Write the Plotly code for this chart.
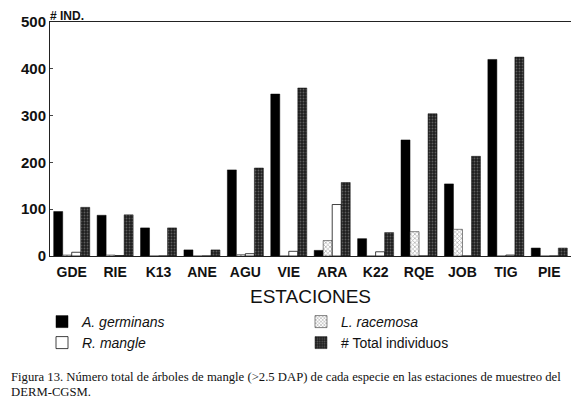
import plotly.graph_objects as go

stations = ["GDE", "RIE", "K13", "ANE", "AGU", "VIE", "ARA", "K22", "RQE", "JOB", "TIG", "PIE"]
a_germinans = [95, 87, 60, 13, 184, 346, 12, 37, 248, 154, 420, 17]
l_racemosa = [2, 2, 0, 0, 3, 0, 33, 0, 52, 57, 0, 0]
r_mangle = [8, 1, 0, 0, 5, 10, 110, 9, 0, 0, 2, 0]
total = [104, 88, 60, 13, 188, 359, 157, 50, 304, 213, 425, 17]

y_ticks = [0, 100, 200, 300, 400, 500]

caption_lines = [
    "Figura 13. Número total de árboles de mangle (>2.5 DAP) de cada especie en las estaciones de muestreo del",
    "DERM-CGSM.",
]

FONT = "Liberation Sans, Arial, sans-serif"
SERIF = "Liberation Serif, Times New Roman, serif"

# the page body adds an 8px offset; figure is sized/placed to compensate
OFF = 8
W, H = 579 - OFF, 400 - OFF
# plot area in window pixels: x 50..571, y 22..256
L, R, T, B = 50 - OFF, 579 - 571, 22 - OFF, 400 - 256
PW, PH = W - L - R, H - T - B


def px_x(px):  # window px -> paper
    return (px - OFF - L) / PW


def px_y(py):  # window px -> paper
    return (H - B - (py - OFF)) / PH


def cx(px):  # window px -> container fraction
    return (px - OFF) / W


def cy(py):
    return 1 - (py - OFF) / H


fig = go.Figure()
fig.add_trace(go.Bar(x=stations, y=a_germinans, name="<i>A. germinans</i>",
                     marker=dict(color="#000000", line=dict(color="#000000", width=0.5)),
                     legend="legend"))
fig.add_trace(go.Bar(x=stations, y=l_racemosa, name="<i>L. racemosa</i>",
                     marker=dict(color="#ffffff", line=dict(color="#333333", width=0.6),
                                 pattern=dict(shape="x", fgcolor="#555555", bgcolor="#ffffff", size=3, solidity=0.4)),
                     legend="legend3"))
fig.add_trace(go.Bar(x=stations, y=r_mangle, name="<i>R. mangle</i>",
                     marker=dict(color="#ffffff", line=dict(color="#111111", width=0.8)),
                     legend="legend2"))
fig.add_trace(go.Bar(x=stations, y=total, name="# Total individuos",
                     marker=dict(color="#2a2a2a", line=dict(color="#111111", width=0.5),
                                 pattern=dict(shape=".", fgcolor="#9a9a9a", bgcolor="#1e1e1e", size=3, solidity=0.3)),
                     legend="legend4"))

leg_common = dict(font=dict(family=FONT, size=14, color="#111111"), bgcolor="rgba(0,0,0,0)",
                  xanchor="left", yanchor="middle", xref="container", yref="container",
                  itemwidth=30)

annotations = [
    dict(text="<b># IND.</b>", xref="paper", yref="paper", x=px_x(49), y=px_y(8),
         xanchor="left", yanchor="top", showarrow=False, borderpad=0,
         font=dict(family=FONT, size=12, color="#111111")),
]
for line, ypos in zip(caption_lines, [377, 392]):
    annotations.append(dict(text=line, xref="paper", yref="paper", x=px_x(10), y=px_y(ypos),
                            xanchor="left", yanchor="middle", align="left", showarrow=False,
                            borderpad=0,
                            font=dict(family=SERIF, size=12.7, color="#111111")))

fig.update_layout(
    width=W, height=H,
    margin=dict(l=L, r=R, t=T, b=B, autoexpand=False),
    paper_bgcolor="white", plot_bgcolor="white",
    barmode="group", bargap=0.17, bargroupgap=0,
    font=dict(family=FONT, color="#111111"),
    showlegend=True,
    legend=dict(x=cx(42), y=cy(322), **leg_common),
    legend2=dict(x=cx(42), y=cy(343), **leg_common),
    legend3=dict(x=cx(301), y=cy(322), **leg_common),
    legend4=dict(x=cx(301), y=cy(343), **leg_common),
    xaxis=dict(
        showline=True, linecolor="#222222", linewidth=1, mirror=True, automargin=False,
        ticks="", tickangle=0, ticklabelstandoff=3,
        tickfont=dict(family=FONT, size=14, color="#111111", weight="bold"),
        title=dict(text="ESTACIONES", font=dict(family=FONT, size=19, color="#111111"), standoff=10),
    ),
    yaxis=dict(
        range=[0, 500], tickvals=y_ticks, showgrid=False, zeroline=False, automargin=False,
        showline=True, linecolor="#222222", linewidth=1, mirror=True,
        ticks="inside", ticklen=3, tickcolor="#444444",
        tickfont=dict(family=FONT, size=15, color="#111111", weight="bold"),
    ),
    annotations=annotations,
)

fig.write_html("out.html")
